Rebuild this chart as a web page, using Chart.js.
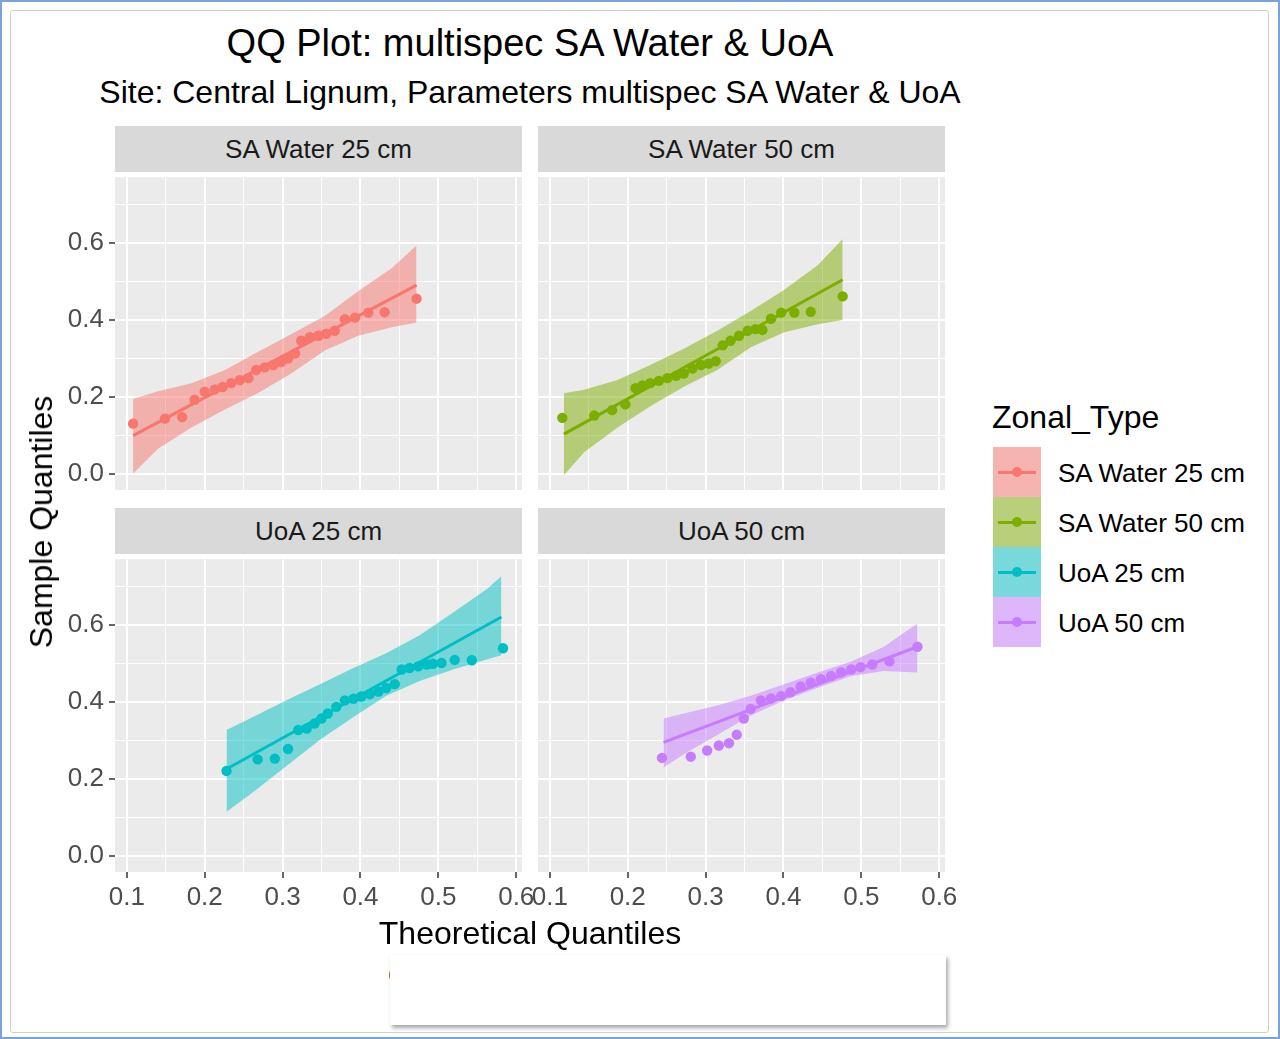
<!DOCTYPE html>
<html>
<head>
<meta charset="utf-8">
<script src="https://cdn.jsdelivr.net/npm/chart.js@4.4.1/dist/chart.umd.min.js"></script>
<style>
body{margin:0;width:1280px;height:1039px;position:relative;overflow:hidden;background:#fff;font-family:"Liberation Sans",Arial,sans-serif;color:#000}
.frame{position:absolute;left:0;top:0;width:1276px;height:1035px;border:2px solid #7ba4d6}
.inner{position:absolute;left:10px;top:10px;width:1257px;height:1021px;border:1px solid #cfcfcf;border-radius:3px}
.title{position:absolute;left:0;width:1060px;text-align:center;white-space:nowrap;line-height:1}
.strip{position:absolute;width:407px;height:46px;line-height:46px;background:#d9d9d9;text-align:center;font-size:26px;color:#1a1a1a}
canvas{position:absolute}
.key{position:absolute;left:993px;width:48px;height:50px}
.key .ln{position:absolute;left:5px;width:38px;top:24px;height:2.5px}
.key .dot{position:absolute;left:19px;top:20px;width:10px;height:10px;border-radius:50%}
.lab{position:absolute;left:1058px;font-size:26px;line-height:1;white-space:nowrap}
</style>
</head>
<body>
<div class="frame"></div>
<div class="inner"></div>

<div class="title" style="top:24px;font-size:38px">QQ Plot: multispec SA Water &amp; UoA</div>
<div class="title" style="top:76px;font-size:32px">Site: Central Lignum, Parameters multispec SA Water &amp; UoA</div>

<div class="strip" style="left:115px;top:126px">SA Water 25 cm</div>
<div class="strip" style="left:538px;top:126px">SA Water 50 cm</div>
<div class="strip" style="left:115px;top:508px">UoA 25 cm</div>
<div class="strip" style="left:538px;top:508px">UoA 50 cm</div>

<canvas id="p1" width="492" height="363" style="left:55px;top:172px"></canvas>
<canvas id="p2" width="492" height="363" style="left:478px;top:172px"></canvas>
<canvas id="p3" width="492" height="363" style="left:55px;top:554px"></canvas>
<canvas id="p4" width="492" height="363" style="left:478px;top:554px"></canvas>

<div style="position:absolute;left:530px;top:917px;transform:translateX(-50%);font-size:32px;line-height:1;white-space:nowrap">Theoretical Quantiles</div>
<div style="position:absolute;left:41px;top:522px;transform:translate(-50%,-50%) rotate(-90deg);font-size:32px;line-height:1;white-space:nowrap">Sample Quantiles</div>

<div style="position:absolute;left:992px;top:401px;font-size:32px;line-height:1">Zonal_Type</div>
<div id="legend"></div>

<div style="position:absolute;left:388px;top:962px;font-size:26px;line-height:1;color:#222">C</div>
<div style="position:absolute;left:390px;top:955px;width:556px;height:70px;background:#fff;box-shadow:2px 3px 4px rgba(0,0,0,0.35)"></div>

<script>
// facets and colours
var facets = ['SA Water 25 cm', 'SA Water 50 cm', 'UoA 25 cm', 'UoA 50 cm'];
var colors = ['#F8766D', '#7CAE00', '#00BFC4', '#C77CFF'];

// tick labels
var majorX = [0.1, 0.2, 0.3, 0.4, 0.5, 0.6];
var minorX = [0.15, 0.25, 0.35, 0.45, 0.55];
var majorY = [0.0, 0.2, 0.4, 0.6];
var minorY = [0.1, 0.3, 0.5, 0.7];

// SA Water 25 cm
var sa25Theo   = [0.108,0.149,0.171,0.187,0.200,0.213,0.223,0.234,0.245,0.256,0.266,0.277,0.288,0.298,0.307,0.316,0.324,0.335,0.346,0.356,0.367,0.380,0.393,0.410,0.431,0.472];
var sa25Sample = [0.131,0.144,0.148,0.193,0.214,0.220,0.226,0.236,0.244,0.249,0.270,0.277,0.283,0.291,0.300,0.313,0.346,0.355,0.359,0.364,0.372,0.402,0.406,0.419,0.420,0.455];
var sa25LineTheo = [0.108, 0.472];
var sa25LineSample = [0.100, 0.490];
var sa25BandTheo = [0.108,0.140,0.183,0.226,0.268,0.311,0.354,0.397,0.440,0.472];
var sa25BandHigh = [0.195,0.215,0.236,0.270,0.317,0.363,0.410,0.474,0.534,0.593];
var sa25BandLow  = [0.002,0.066,0.121,0.168,0.210,0.261,0.321,0.359,0.381,0.393];

// SA Water 50 cm
var sa50Theo   = [0.116,0.157,0.180,0.197,0.210,0.219,0.229,0.240,0.251,0.262,0.272,0.283,0.294,0.304,0.313,0.322,0.332,0.343,0.354,0.364,0.373,0.384,0.397,0.414,0.435,0.476];
var sa50Sample = [0.146,0.152,0.166,0.181,0.223,0.230,0.236,0.242,0.249,0.255,0.261,0.274,0.283,0.287,0.293,0.334,0.346,0.359,0.372,0.376,0.374,0.403,0.419,0.419,0.421,0.461];
var sa50LineTheo = [0.118, 0.476];
var sa50LineSample = [0.104, 0.504];
var sa50BandTheo = [0.118,0.144,0.187,0.229,0.272,0.315,0.358,0.401,0.444,0.476];
var sa50BandHigh = [0.210,0.219,0.244,0.283,0.325,0.372,0.423,0.478,0.542,0.610];
var sa50BandLow  = [-0.003,0.057,0.121,0.176,0.227,0.270,0.329,0.368,0.389,0.400];

// UoA 25 cm
var uoa25Theo   = [0.228,0.268,0.290,0.307,0.320,0.331,0.341,0.350,0.358,0.369,0.380,0.391,0.401,0.412,0.423,0.433,0.444,0.453,0.463,0.474,0.485,0.493,0.504,0.521,0.543,0.583];
var uoa25Sample = [0.221,0.251,0.253,0.278,0.327,0.331,0.344,0.357,0.370,0.387,0.404,0.408,0.414,0.420,0.427,0.436,0.446,0.484,0.488,0.492,0.497,0.499,0.501,0.509,0.508,0.539];
var uoa25LineTheo = [0.228, 0.581];
var uoa25LineSample = [0.226, 0.620];
var uoa25BandTheo = [0.228,0.262,0.305,0.348,0.391,0.433,0.476,0.519,0.562,0.581];
var uoa25BandHigh = [0.327,0.361,0.404,0.446,0.488,0.526,0.573,0.632,0.692,0.726];
var uoa25BandLow  = [0.115,0.166,0.234,0.302,0.361,0.416,0.454,0.484,0.510,0.521];

// UoA 50 cm
var uoa50Theo   = [0.244,0.281,0.302,0.317,0.330,0.340,0.349,0.358,0.371,0.384,0.397,0.409,0.422,0.435,0.448,0.461,0.474,0.487,0.499,0.514,0.536,0.572];
var uoa50Sample = [0.255,0.258,0.274,0.287,0.293,0.315,0.357,0.382,0.404,0.409,0.415,0.425,0.440,0.450,0.459,0.467,0.477,0.484,0.490,0.497,0.505,0.543];
var uoa50LineTheo = [0.246, 0.572];
var uoa50LineSample = [0.295, 0.543];
var uoa50BandTheo = [0.246,0.272,0.315,0.358,0.401,0.444,0.487,0.529,0.572];
var uoa50BandHigh = [0.357,0.370,0.391,0.416,0.446,0.476,0.505,0.543,0.603];
var uoa50BandLow  = [0.230,0.264,0.314,0.365,0.404,0.437,0.467,0.480,0.476];

Chart.defaults.font.family = '"Liberation Sans", Arial, sans-serif';

function zip(xs, ys){
	return xs.map(function(x, i){ return {x: x, y: ys[i]}; });
}
function isIn(list, v){
	return list.some(function(m){ return Math.abs(m - v) < 1e-6; });
}
function rgba(hex, a){
	var n = parseInt(hex.slice(1), 16);
	return 'rgba(' + (n >> 16) + ',' + ((n >> 8) & 255) + ',' + (n & 255) + ',' + a + ')';
}

// grey panel background
var panelBg = {
	id: 'panelBg',
	beforeDraw: function(c){
		var a = c.chartArea;
		c.ctx.save();
		c.ctx.fillStyle = '#ebebeb';
		c.ctx.fillRect(a.left, a.top, a.right - a.left, a.bottom - a.top);
		c.ctx.restore();
	}
};

function noPad(s){
	s.paddingLeft = 0; s.paddingRight = 0; s.paddingTop = 0; s.paddingBottom = 0;
}

function drawPanel(id, color, theo, sample, lineTheo, lineSample, bandTheo, bandHigh, bandLow, showX, showY){
	new Chart(document.getElementById(id), {
		type: 'scatter',
		data: {
			datasets: [
			//band top, filled to band bottom
			{
				data: zip(bandTheo, bandHigh),
				showLine: true, borderWidth: 0, pointRadius: 0,
				backgroundColor: rgba(color, 0.5), fill: '+1', order: 3
			},
			{
				data: zip(bandTheo, bandLow),
				showLine: true, borderWidth: 0, pointRadius: 0,
				fill: false, order: 4
			},
			//reference line
			{
				data: zip(lineTheo, lineSample),
				showLine: true, borderColor: color, borderWidth: 3,
				pointRadius: 0, fill: false, order: 1
			},
			//sample points
			{
				data: zip(theo, sample),
				pointRadius: 5.2, pointBorderWidth: 0,
				pointBackgroundColor: color, backgroundColor: color, order: 0
			}
			]
		},
		options: {
			responsive: false,
			animation: false,
			layout: {padding: {left: 0, right: 25, top: 0, bottom: 0}},
			plugins: {legend: {display: false}, tooltip: {enabled: false}},
			scales: {
				x: {
					type: 'linear', min: 0.0848, max: 0.6074,
					afterBuildTicks: function(s){
						s.ticks = majorX.concat(minorX).sort().map(function(v){ return {value: v}; });
					},
					afterFit: function(s){ s.height = 45; noPad(s); },
					border: {display: false},
					grid: {
						color: '#ffffff',
						lineWidth: function(c){ return isIn(majorX, c.tick.value) ? 2 : 1; },
						tickLength: 6,
						tickWidth: 1.5,
						tickColor: function(c){ return showX && isIn(majorX, c.tick.value) ? '#333333' : 'rgba(0,0,0,0)'; }
					},
					ticks: {
						display: showX, padding: 4, color: '#4d4d4d', font: {size: 26},
						autoSkip: false, maxRotation: 0,
						callback: function(v){ return isIn(majorX, v) ? v.toFixed(1) : ''; }
					}
				},
				y: {
					type: 'linear', min: -0.041, max: 0.77,
					afterBuildTicks: function(s){
						s.ticks = majorY.concat(minorY).sort().map(function(v){ return {value: v}; });
					},
					afterFit: function(s){ s.width = 60; noPad(s); },
					border: {display: false},
					grid: {
						color: '#ffffff',
						lineWidth: function(c){ return isIn(majorY, c.tick.value) ? 2 : 1; },
						tickLength: 6,
						tickWidth: 1.5,
						tickColor: function(c){ return showY && isIn(majorY, c.tick.value) ? '#333333' : 'rgba(0,0,0,0)'; }
					},
					ticks: {
						display: showY, padding: 5, color: '#4d4d4d', font: {size: 26},
						autoSkip: false,
						callback: function(v){ return isIn(majorY, v) ? v.toFixed(1) : ''; }
					}
				}
			}
		},
		plugins: [panelBg]
	});
}

drawPanel('p1', colors[0], sa25Theo, sa25Sample, sa25LineTheo, sa25LineSample, sa25BandTheo, sa25BandHigh, sa25BandLow, false, true);
drawPanel('p2', colors[1], sa50Theo, sa50Sample, sa50LineTheo, sa50LineSample, sa50BandTheo, sa50BandHigh, sa50BandLow, false, false);
drawPanel('p3', colors[2], uoa25Theo, uoa25Sample, uoa25LineTheo, uoa25LineSample, uoa25BandTheo, uoa25BandHigh, uoa25BandLow, true, true);
drawPanel('p4', colors[3], uoa50Theo, uoa50Sample, uoa50LineTheo, uoa50LineSample, uoa50BandTheo, uoa50BandHigh, uoa50BandLow, true, false);

// legend (keys + labels)
var leg = document.getElementById('legend');
facets.forEach(function(name, i){
	var top = 447 + i * 50;
	var key = document.createElement('div');
	key.className = 'key';
	key.style.top = top + 'px';
	key.style.background = 'linear-gradient(' + rgba(colors[i], 0.5) + ',' + rgba(colors[i], 0.5) + '), #f2f2f2';
	key.innerHTML = '<div class="ln" style="background:' + colors[i] + '"></div><div class="dot" style="background:' + colors[i] + '"></div>';
	leg.appendChild(key);
	var lab = document.createElement('div');
	lab.className = 'lab';
	lab.style.top = (top + 13) + 'px';
	lab.textContent = name;
	leg.appendChild(lab);
});
</script>
</body>
</html>
